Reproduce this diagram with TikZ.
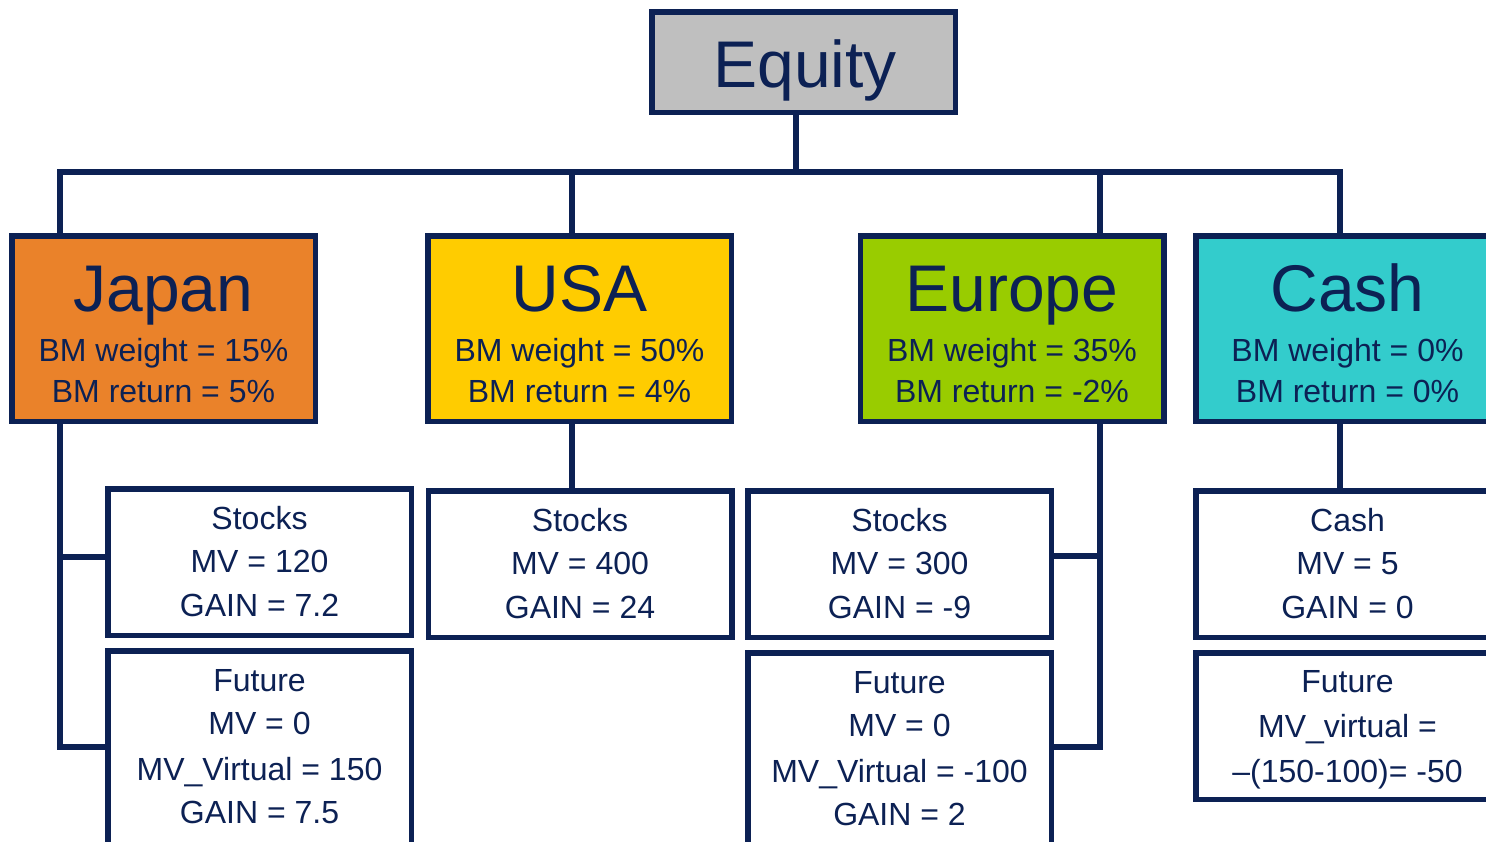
\documentclass[tikz,border=0pt]{standalone}
\usepackage{fontspec}
\setmainfont{Liberation Sans}
\definecolor{navy}{RGB}{12,33,84}
\definecolor{eqfill}{RGB}{191,191,191}
\definecolor{jpfill}{RGB}{234,130,42}
\definecolor{usfill}{RGB}{255,204,0}
\definecolor{eufill}{RGB}{153,204,0}
\definecolor{cafill}{RGB}{51,204,204}
\begin{document}
\begin{tikzpicture}[x=1pt,y=-1pt,
  box/.style={draw=navy,line width=5.5pt,rectangle,inner sep=0pt,outer sep=0pt,
              minimum width=303.5pt},
  topbox/.style={box,minimum height=185.5pt},
  leafbox/.style={box,fill=white,minimum height=146.5pt},
  link/.style={draw=navy,line width=5.5pt,line join=miter},
  big/.style={text=navy,inner sep=0pt,anchor=base,font=\fontsize{66}{79}\selectfont},
  small/.style={text=navy,inner sep=0pt,anchor=base,font=\fontsize{32}{38}\selectfont}]
\clip (0,0) rectangle (1486,841);
\fill[white] (0,0) rectangle (1486,841);

% root
\node[box,fill=eqfill,minimum height=100.5pt] (eq) at (803.5,62) {};
\node[big] (eqt) at (805,87) {Equity};

% regions
\node[topbox,fill=jpfill] (jp) at (163.5,328.5) {};
\node[topbox,fill=usfill] (us) at (579.5,328.5) {};
\node[topbox,fill=eufill] (eu) at (1012,328.5) {};
\node[topbox,fill=cafill] (ca) at (1347.5,328.5) {};

\node[big] (jpt) at (163.5,311) {Japan};
\node[small] (jpw) at (163.5,361) {BM weight = 15\%};
\node[small] (jpr) at (163.5,402) {BM return = 5\%};
\node[big] (ust) at (579.5,311) {USA};
\node[small] (usw) at (579.5,361) {BM weight = 50\%};
\node[small] (usr) at (579.5,402) {BM return = 4\%};
\node[big] (eut) at (1012,311) {Europe};
\node[small] (euw) at (1012,361) {BM weight = 35\%};
\node[small] (eur) at (1012,402) {BM return = -2\%};
\node[big] (cat) at (1347.5,311) {Cash};
\node[small] (caw) at (1347.5,361) {BM weight = 0\%};
\node[small] (car) at (1347.5,402) {BM return = 0\%};

% holdings
\node[leafbox] (js) at (259.5,562) {};
\node[box,fill=white,minimum height=209.5pt] (jf) at (259.5,755.5) {};
\node[leafbox] (uss) at (580,564) {};
\node[leafbox] (es) at (899.5,564) {};
\node[box,fill=white,minimum height=209.5pt] (ef) at (899.5,757.5) {};
\node[leafbox] (cs) at (1347.5,564) {};
\node[leafbox] (cf) at (1347.5,726) {};

\node[small] at (259.5,529) {Stocks};
\node[small] at (259.5,572) {MV = 120};
\node[small] at (259.5,616) {GAIN = 7.2};
\node[small] at (259.5,691) {Future};
\node[small] at (259.5,734) {MV = 0};
\node[small] at (259.5,780) {MV\_Virtual = 150};
\node[small] at (259.5,823) {GAIN = 7.5};

\node[small] at (580,531) {Stocks};
\node[small] at (580,574) {MV = 400};
\node[small] at (580,618) {GAIN = 24};

\node[small] at (899.5,531) {Stocks};
\node[small] at (899.5,574) {MV = 300};
\node[small] at (899.5,618) {GAIN = -9};
\node[small] at (899.5,693) {Future};
\node[small] at (899.5,736) {MV = 0};
\node[small] at (899.5,782) {MV\_Virtual = -100};
\node[small] at (899.5,825) {GAIN = 2};

\node[small] at (1347.5,531) {Cash};
\node[small] at (1347.5,574) {MV = 5};
\node[small] at (1347.5,618) {GAIN = 0};
\node[small] at (1347.5,692) {Future};
\node[small] at (1347.5,737) {MV\_virtual =};
\node[small] at (1347.5,782) {–(150-100)= -50};

% connector junctions
\coordinate (bus) at (796,172);
\coordinate (bj) at (60,172);
\coordinate (bu) at (572,172);
\coordinate (be) at (1100,172);
\coordinate (bc) at (1340,172);
\coordinate (jx1) at (60,557);
\coordinate (jx2) at (60,747);
\coordinate (ex1) at (1100,556);
\coordinate (ex2) at (1100,747);

% tree lines
\draw[link] (bus |- eq.south) -- (bus);
\draw[link] (bj |- jp.north) -- (bj) -- (bc) -- (bc |- ca.north);
\draw[link] (bu) -- (bu |- us.north);
\draw[link] (be) -- (be |- eu.north);
\draw[link] (jx1 |- jp.south) -- (jx2) -- (jx2 -| jf.west);
\draw[link] (jx1) -- (jx1 -| js.west);
\draw[link] (bu |- us.south) -- (bu |- uss.north);
\draw[link] (ex1 |- eu.south) -- (ex2) -- (ex2 -| ef.east);
\draw[link] (ex1) -- (ex1 -| es.east);
\draw[link] (bc |- ca.south) -- (bc |- cs.north);
\end{tikzpicture}
\end{document}
